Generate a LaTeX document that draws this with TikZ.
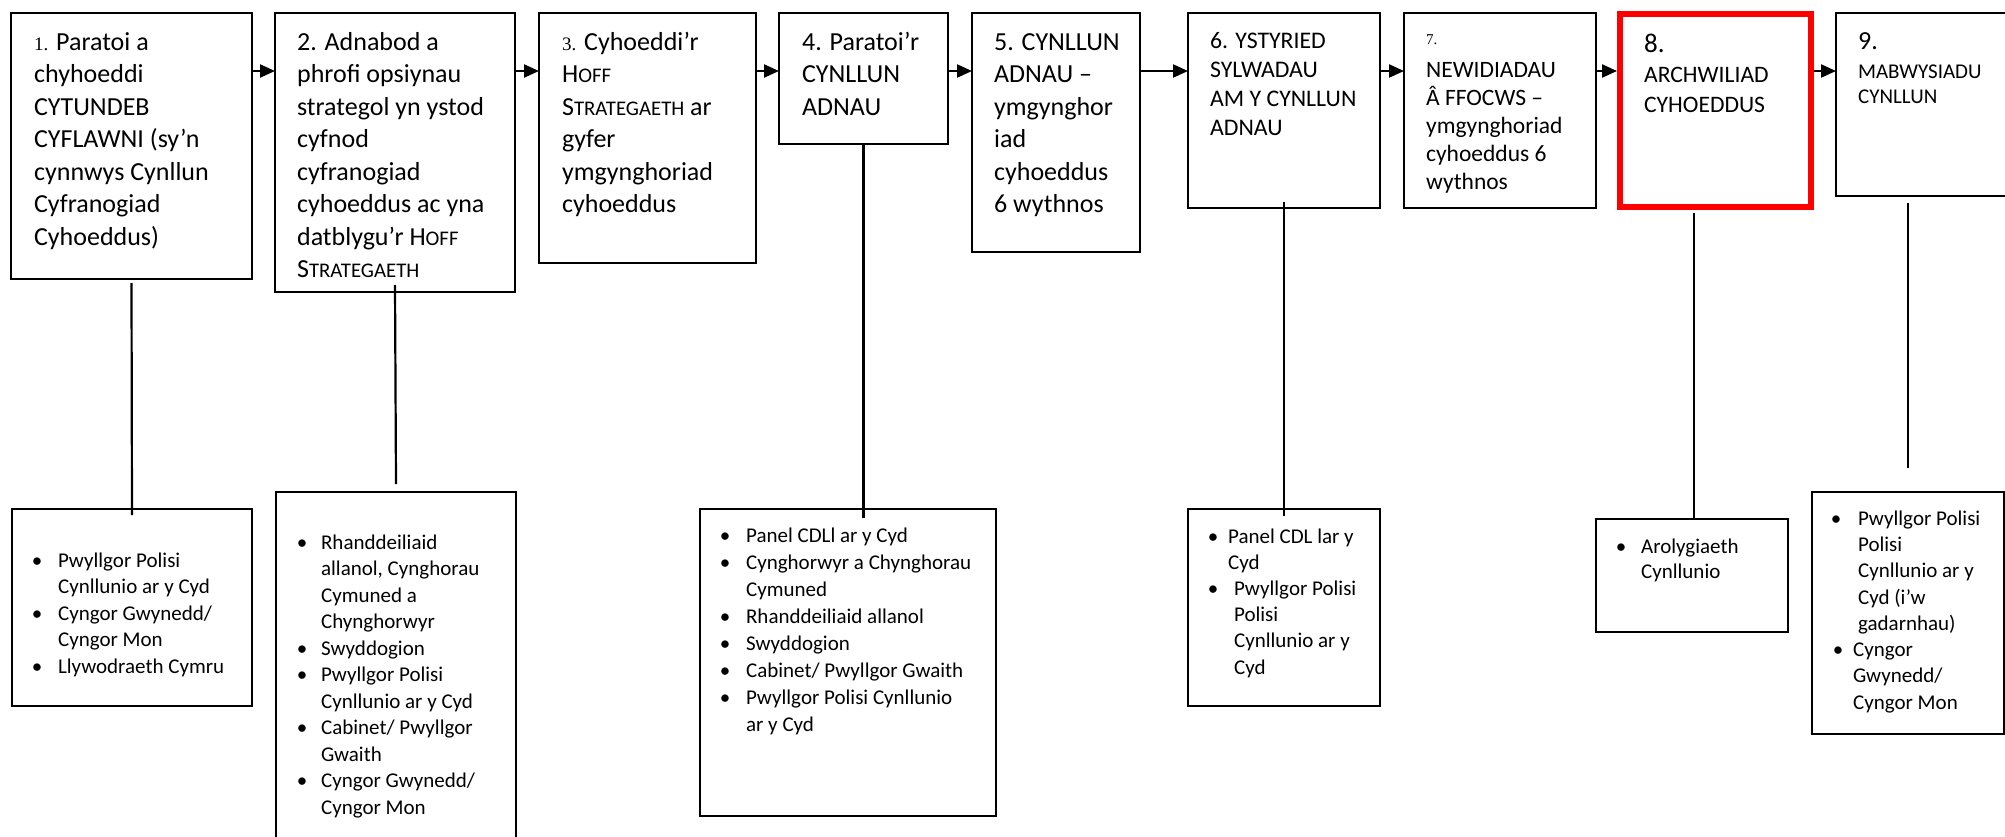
\documentclass[tikz,border=0pt]{standalone}
\usepackage{fontspec}
\setmainfont{Carlito}
\newfontfamily\serifnum{Liberation Serif}
\usetikzlibrary{arrows.meta,calc}

\tikzset{every picture/.style={line width=2.2pt}}
\tikzset{
  stagebox/.style={draw, rectangle, inner sep=0pt, outer sep=0pt, anchor=north west},
  steptext/.style={anchor=north west, inner sep=0pt, align=left, font=\fontsize{26}{32.5}\selectfont},
  listtext/.style={anchor=north west, inner sep=0pt, align=left, font=\fontsize{21}{26.5}\selectfont},
  flow/.style={-{Triangle[length=15pt,width=13pt]}},
}
\newcommand{\lowcaps}[1]{{\fontsize{20.8}{32.5}\selectfont #1}}
\newcommand{\numserif}[2]{{\serifnum\fontsize{#1}{#1}\selectfont #2}}
\newcommand{\bul}[1]{\llap{\makebox[#1][c]{\textbullet}}}

\begin{document}
\begin{tikzpicture}[x=1pt,y=1pt,yscale=-1,xscale=1]
\useasboundingbox[fill=white] (0,0) rectangle (2005,837);
\clip (0,0) rectangle (2005,837);

%Shape: Rectangle
\node[stagebox, minimum width=241, minimum height=266] (t1) at (11,13) {};
%Shape: Rectangle
\node[stagebox, minimum width=240, minimum height=279] (t2) at (275,13) {};
%Shape: Rectangle
\node[stagebox, minimum width=217, minimum height=250] (t3) at (539,13) {};
%Shape: Rectangle
\node[stagebox, minimum width=169, minimum height=131] (t4) at (779,13) {};
%Shape: Rectangle
\node[stagebox, minimum width=168, minimum height=239] (t5) at (972,13) {};
%Shape: Rectangle
\node[stagebox, minimum width=192, minimum height=195] (t6) at (1188,13) {};
%Shape: Rectangle
\node[stagebox, minimum width=192, minimum height=195] (t7) at (1404,13) {};
%Shape: Rectangle (red)
\node[stagebox, draw=red, line width=6pt, outer sep=3pt, minimum width=191, minimum height=193] (t8) at (1617,11) {};
%Shape: Rectangle
\node[stagebox, minimum width=204, minimum height=183] (t9) at (1836,13) {};

%Shape: Rectangle
\node[stagebox, minimum width=240, minimum height=197] (b1) at (12,509) {};
%Shape: Rectangle
\node[stagebox, minimum width=240, minimum height=360] (b2) at (276,492) {};
%Shape: Rectangle
\node[stagebox, minimum width=296, minimum height=307] (b4) at (700,509) {};
%Shape: Rectangle
\node[stagebox, minimum width=192, minimum height=197] (b6) at (1188,509) {};
%Shape: Rectangle
\node[stagebox, minimum width=192, minimum height=113] (b8) at (1596,519) {};
%Shape: Rectangle
\node[stagebox, minimum width=192, minimum height=242] (b9) at (1812,492) {};

%Right Arrows
\coordinate (row) at (0,71);
\draw[flow] (t1.east |- row) -- (t2.west |- row);
\draw[flow] (t2.east |- row) -- (t3.west |- row);
\draw[flow] (t3.east |- row) -- (t4.west |- row);
\draw[flow] (t4.east |- row) -- (t5.west |- row);
\draw[flow] (t5.east |- row) -- (t6.west |- row);
\draw[flow] (t6.east |- row) -- (t7.west |- row);
\draw[flow] (t7.east |- row) -- (t8.west |- row);
\draw[flow] (t8.east |- row) -- (t9.west |- row);

%Straight Lines
\draw ($(t1.south)+(0,4)$) -- ($(b1.north)+(0,6)$);
\draw ($(t2.south)+(0,-7)$) -- ($(b2.north)+(0,-8)$);
\draw (t4.south) -- ($(t4.south |- b4.north)+(0,9)$);
\draw ($(t6.south)+(0,-6)$) -- ($(b6.north)+(0,7)$);
\draw ($(b8.north |- t8.south)+(2,3)$) -- ($(b8.north)+(2,0)$);
\draw ($(b9.north |- t9.south)+(0,7)$) -- ($(b9.north)+(0,-24)$);

% Text Node
\node[steptext] (s1) at (33,26.25) {\strut\numserif{19}{1.} Paratoi a\\chyhoeddi\\CYTUNDEB\\CYFLAWNI (sy’n\\cynnwys Cynllun\\Cyfranogiad\\Cyhoeddus)};
% Text Node
\node[steptext] (s2) at (296,26.25) {\strut 2. Adnabod a\\phrofi opsiynau\\strategol yn ystod\\cyfnod\\cyfranogiad\\cyhoeddus ac yna\\datblygu’r H\lowcaps{OFF}\\S\lowcaps{TRATEGAETH}};
% Text Node
\node[steptext] (s3) at (561,26.25) {\strut\numserif{19}{3.} Cyhoeddi’r\\H\lowcaps{OFF}\\S\lowcaps{TRATEGAETH} ar\\gyfer\\ymgynghoriad\\cyhoeddus};
% Text Node
\node[steptext] (s4) at (801,26.25) {\strut 4. Paratoi’r\\CYNLLUN\\ADNAU};
% Text Node
\node[steptext] (s5) at (993,26.25) {\strut 5. CYNLLUN\\ADNAU –\\ymgynghor\\iad\\cyhoeddus\\6 wythnos};
% Text Node
\node[steptext, font=\fontsize{23.8}{29}\selectfont] (s6) at (1209,26.7) {\strut 6. YSTYRIED\\SYLWADAU\\AM Y CYNLLUN\\ADNAU};
% Text Node
\node[steptext, font=\fontsize{23.5}{28.2}\selectfont] (s7) at (1425,23.26) {\strut\numserif{15}{7.}\\[4.8pt]NEWIDIADAU\\Â FFOCWS –\\ymgynghoriad\\cyhoeddus 6\\wythnos};
% Text Node
\node[steptext, font=\fontsize{23.6}{30}\selectfont] (s8) at (1643,30) {\strut{\fontsize{27}{30}\selectfont 8.}\\ARCHWILIAD\\CYHOEDDUS};
% Text Node
\node[steptext, font=\fontsize{21}{25.5}\selectfont] (s9) at (1857,30.15) {\strut{\fontsize{26}{26}\selectfont 9.}\\[3.5pt]MABWYSIADU\\CYNLLUN};

% Text Node
\node[listtext] (l1) at (57,547.45) {\strut\bul{42pt}Pwyllgor Polisi\\Cynllunio ar y Cyd\\\bul{42pt}Cyngor Gwynedd/\\Cyngor Mon\\\bul{42pt}Llywodraeth Cymru};
% Text Node
\node[listtext] (l2) at (320,529.45) {\strut\bul{38pt}Rhanddeiliaid\\allanol, Cynghorau\\Cymuned a\\Chynghorwyr\\\bul{38pt}Swyddogion\\\bul{38pt}Pwyllgor Polisi\\Cynllunio ar y Cyd\\\bul{38pt}Cabinet/ Pwyllgor\\Gwaith\\\bul{38pt}Cyngor Gwynedd/\\Cyngor Mon};
% Text Node
\node[listtext, font=\fontsize{21}{27}\selectfont] (l4) at (745,522.1) {\strut\bul{42pt}Panel CDLl ar y Cyd\\\bul{42pt}Cynghorwyr a Chynghorau\\Cymuned\\\bul{42pt}Rhanddeiliaid allanol\\\bul{42pt}Swyddogion\\\bul{42pt}Cabinet/ Pwyllgor Gwaith\\\bul{42pt}Pwyllgor Polisi Cynllunio\\ar y Cyd};
% Text Node
\node[listtext, font=\fontsize{21}{26.2}\selectfont] (l6) at (1227,523.66) {\strut\bul{30pt}Panel CDL lar y\\Cyd\\\hspace*{6pt}\bul{42pt}Pwyllgor Polisi\\\hspace*{6pt}Polisi\\\hspace*{6pt}Cynllunio ar y\\\hspace*{6pt}Cyd};
% Text Node
\node[listtext, font=\fontsize{21}{25}\selectfont] (l8) at (1640,534.5) {\strut\bul{40pt}Arolygiaeth\\Cynllunio};
% Text Node
\node[listtext, font=\fontsize{21}{26.3}\selectfont] (l9) at (1852,505.6) {\strut\hspace*{5pt}\bul{44pt}Pwyllgor Polisi\\\hspace*{5pt}Polisi\\\hspace*{5pt}Cynllunio ar y\\\hspace*{5pt}Cyd (i’w\\\hspace*{5pt}gadarnhau)\\\bul{30pt}Cyngor\\Gwynedd/\\Cyngor Mon};

\end{tikzpicture}
\end{document}
